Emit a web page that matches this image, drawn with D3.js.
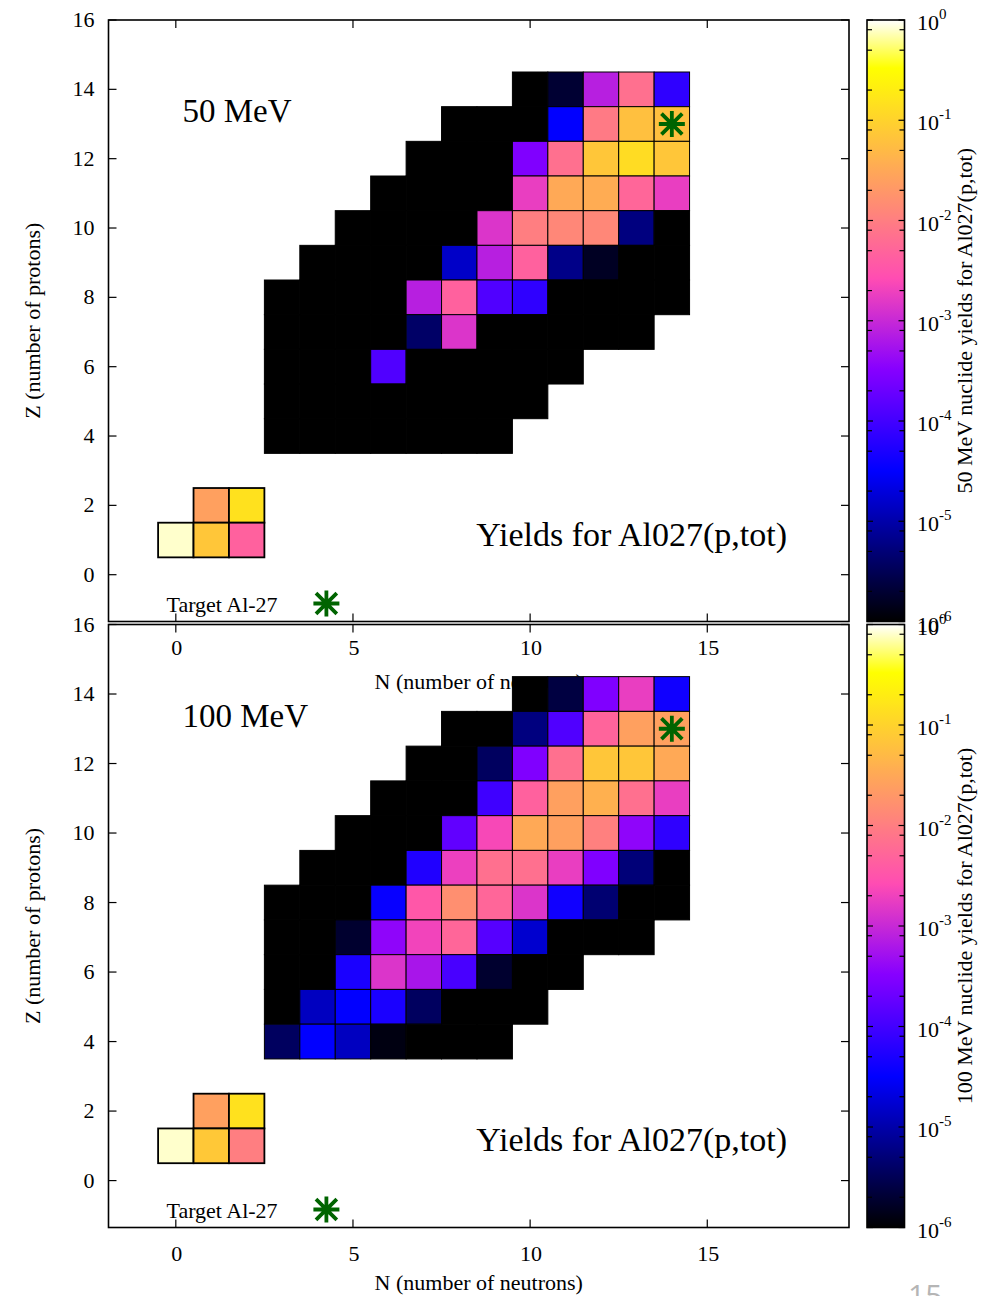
<!DOCTYPE html>
<html>
<head>
<meta charset="utf-8">
<script src="https://cdn.jsdelivr.net/npm/d3@7"></script>
<style>
  body { margin: 0; background: #fff; }
  svg { display: block; }
  text { font-family: "Liberation Serif", "Times New Roman", serif; fill: #000; }
</style>
</head>
<body>
<svg id="chart" width="992" height="1296"></svg>
<script>
// rows of the nuclide chart, top row first
const Z_ROWS = [14, 13, 12, 11, 10, 9, 8, 7, 6, 5, 4];
const N_FIRST = [10, 8, 7, 6, 5, 4, 3, 3, 3, 3, 3];

// yields per row, starting at N_FIRST (values under 1e-6 are drawn black)
const YIELD_50 = [
  [3e-7, 2.0e-6, 7.6e-4, 6.9e-3, 7.2e-5],
  [1e-7, 4e-7, 8e-7, 3.2e-5, 9.1e-3, 6.0e-2, 6.0e-2],
  [1e-7, 2e-7, 6e-7, 2.9e-4, 6.9e-3, 7.1e-2, 1.3e-1, 7.1e-2],
  [5e-8, 1e-7, 3e-7, 8e-7, 1.8e-3, 3.2e-2, 3.5e-2, 5.2e-3, 1.8e-3],
  [3e-8, 1e-7, 2e-7, 7e-7, 1.4e-3, 1.0e-2, 1.3e-2, 1.3e-2, 5.6e-6, 6e-7],
  [2e-8, 5e-8, 1e-7, 6e-7, 1.5e-5, 7.6e-4, 4.6e-3, 6.3e-6, 1.6e-6, 4e-7, 1e-7],
  [1e-8, 3e-8, 1e-7, 4e-7, 7.6e-4, 4.6e-3, 1.26e-4, 7.2e-5, 9e-7, 3e-7, 1e-7, 5e-8],
  [1e-8, 3e-8, 1e-7, 5e-7, 4.0e-6, 1.4e-3, 8e-7, 3e-7, 1e-7, 5e-8, 2e-8],
  [1e-8, 5e-8, 3e-7, 1.26e-4, 7e-7, 5e-7, 2e-7, 1e-7, 3e-8],
  [1e-8, 5e-8, 2e-7, 5e-7, 8e-7, 4e-7, 1e-7, 3e-8],
  [1e-8, 3e-8, 1e-7, 3e-7, 2e-7, 8e-8, 2e-8]
];

const YIELD_100 = [
  [5e-7, 2.4e-6, 2.9e-4, 1.8e-3, 4.2e-5],
  [2e-7, 7e-7, 5.6e-6, 1.26e-4, 5.0e-3, 2.5e-2, 2.5e-2],
  [2e-7, 6e-7, 3.6e-6, 2.9e-4, 6.9e-3, 7.1e-2, 7.1e-2, 3.2e-2],
  [1e-7, 4e-7, 9e-7, 9.5e-5, 4.6e-3, 2.5e-2, 3.9e-2, 6.9e-3, 1.8e-3],
  [1e-7, 3e-7, 8e-7, 1.7e-4, 2.3e-3, 3.2e-2, 2.5e-2, 1.05e-2, 3.8e-4, 7.2e-5],
  [5e-8, 2e-7, 7e-7, 5.5e-5, 1.9e-3, 6.9e-3, 6.9e-3, 1.8e-3, 2.9e-4, 5.1e-6, 8e-7],
  [3e-8, 2e-7, 6e-7, 3.6e-5, 3.5e-3, 1.6e-2, 5.2e-3, 1.4e-3, 4.2e-5, 4.6e-6, 7e-7, 3e-7],
  [1e-7, 5e-7, 1.9e-6, 3.8e-4, 2.1e-3, 5.2e-3, 1.4e-4, 1.66e-5, 8e-7, 4e-7, 1e-7],
  [2e-7, 8e-7, 5.0e-5, 1.4e-3, 5.8e-4, 1.1e-4, 1.9e-6, 6e-7, 2e-7],
  [6e-7, 1.35e-5, 3.2e-5, 5.0e-5, 3.6e-6, 7e-7, 3e-7, 1e-7],
  [3.6e-6, 3.2e-5, 1.35e-5, 1.26e-6, 8e-7, 4e-7, 1e-7]
];

// light ejectiles (p, d, t / 3He, 4He)
const LIGHT_Z = [2, 1];
const LIGHT_N_FIRST = [1, 0];
const LIGHT_50 = [[2.5e-2, 1.45e-1], [8e-1, 7.1e-2, 4.6e-3]];
const LIGHT_100 = [[2.5e-2, 1.45e-1], [8e-1, 7.4e-2, 1.0e-2]];

const TARGET_N = 14;
const TARGET_Z = 13;

const X_TICKS = [0, 5, 10, 15];
const Y_TICKS = [0, 2, 4, 6, 8, 10, 12, 14, 16];
const CB_EXPONENTS = [0, -1, -2, -3, -4, -5, -6];
const CB_MINOR = [2, 5, 8];

const ENERGIES = ["50 MeV", "100 MeV"];

// gnuplot rgbformulae 30,31,32
function palette(t) {
  const c = (v) => Math.max(0, Math.min(1, v));
  const r = c(t / 0.32 - 0.78125);
  const g = c(2 * t - 0.84);
  const b = c(t < 0.25 ? 4 * t : t < 0.42 ? 1 : t < 0.92 ? -2 * t + 1.84 : t / 0.08 - 11.5);
  return d3.rgb(r * 255, g * 255, b * 255).formatHex();
}

const svg = d3.select("#chart");
const W = { left: 108.5, right: 849, cbLeft: 867, cbRight: 904.5 };
const PANEL_TOPS = [20, 624.5];
const PANEL_BOTTOMS = [621.5, 1227.5];
const XLABEL_DY = [67, 62];
const GREEN = "#006400";

const frac = d3.scaleLog().domain([1e-6, 1]).range([0, 1]).clamp(true);

const grad = svg.append("defs").append("linearGradient")
  .attr("id", "pal").attr("x1", 0).attr("y1", 1).attr("x2", 0).attr("y2", 0);
d3.range(0, 101).forEach((i) => {
  grad.append("stop").attr("offset", i / 100).attr("stop-color", palette(i / 100));
});

function asterisk(g, cx, cy, r) {
  const p = d3.path();
  p.moveTo(cx - r, cy); p.lineTo(cx + r, cy);
  p.moveTo(cx, cy - r); p.lineTo(cx, cy + r);
  const d = r * 0.8;
  p.moveTo(cx - d, cy - d); p.lineTo(cx + d, cy + d);
  p.moveTo(cx - d, cy + d); p.lineTo(cx + d, cy - d);
  g.append("path").attr("d", p.toString())
    .attr("stroke", GREEN).attr("stroke-width", 3.8).attr("fill", "none");
}

function drawPanel(idx) {
  const top = PANEL_TOPS[idx];
  const bottom = PANEL_BOTTOMS[idx];
  const yields = idx === 0 ? YIELD_50 : YIELD_100;
  const light = idx === 0 ? LIGHT_50 : LIGHT_100;
  const energy = ENERGIES[idx];

  const x = d3.scaleLinear().domain([-1.9, 19]).range([W.left, W.right]);
  const y = d3.scaleLinear().domain([-1.35, 16]).range([bottom, top]);
  const g = svg.append("g");

  // cells
  const cells = [];
  Z_ROWS.forEach((z, i) => {
    yields[i].forEach((v, j) => cells.push({ n: N_FIRST[i] + j, z, v }));
  });
  g.selectAll("rect.cell").data(cells).join("rect")
    .attr("class", "cell")
    .attr("x", (d) => x(d.n - 0.5))
    .attr("y", (d) => y(d.z + 0.5))
    .attr("width", x(1) - x(0))
    .attr("height", y(0) - y(1))
    .attr("fill", (d) => palette(frac(d.v)))
    .attr("stroke", "#000")
    .attr("stroke-width", 1);

  const lightCells = [];
  LIGHT_Z.forEach((z, i) => {
    light[i].forEach((v, j) => lightCells.push({ n: LIGHT_N_FIRST[i] + j, z, v }));
  });
  g.selectAll("rect.light").data(lightCells).join("rect")
    .attr("class", "light")
    .attr("x", (d) => x(d.n - 0.5))
    .attr("y", (d) => y(d.z + 0.5))
    .attr("width", x(1) - x(0))
    .attr("height", y(0) - y(1))
    .attr("fill", (d) => palette(frac(d.v)))
    .attr("stroke", "#000")
    .attr("stroke-width", 1.8);

  asterisk(g, x(TARGET_N), y(TARGET_Z), 13);

  // frame and ticks
  g.append("rect")
    .attr("x", W.left).attr("y", top)
    .attr("width", W.right - W.left).attr("height", bottom - top)
    .attr("fill", "none").attr("stroke", "#000").attr("stroke-width", 1.6);

  X_TICKS.forEach((t) => {
    g.append("line").attr("x1", x(t)).attr("x2", x(t)).attr("y1", bottom).attr("y2", bottom - 8)
      .attr("stroke", "#000").attr("stroke-width", 1.2);
    g.append("line").attr("x1", x(t)).attr("x2", x(t)).attr("y1", top).attr("y2", top + 8)
      .attr("stroke", "#000").attr("stroke-width", 1.2);
    g.append("text").attr("x", x(t) + 1).attr("y", bottom + 33)
      .attr("text-anchor", "middle").attr("font-size", 22).text(t);
  });
  Y_TICKS.forEach((t) => {
    g.append("line").attr("x1", W.left).attr("x2", W.left + 8).attr("y1", y(t)).attr("y2", y(t))
      .attr("stroke", "#000").attr("stroke-width", 1.2);
    g.append("line").attr("x1", W.right).attr("x2", W.right - 8).attr("y1", y(t)).attr("y2", y(t))
      .attr("stroke", "#000").attr("stroke-width", 1.2);
    g.append("text").attr("x", W.left - 14).attr("y", y(t) + 7)
      .attr("text-anchor", "end").attr("font-size", 22).text(t);
  });

  // axis titles
  g.append("text")
    .attr("transform", `translate(${(W.left + W.right) / 2},${bottom + XLABEL_DY[idx]})`)
    .attr("text-anchor", "middle").attr("font-size", 22)
    .text("N (number of neutrons)");
  g.append("text")
    .attr("transform", `translate(40,${(top + bottom) / 2}) rotate(-90)`)
    .attr("text-anchor", "middle").attr("font-size", 22)
    .text("Z (number of protons)");

  // labels inside
  g.append("text").attr("x", W.left + 74).attr("y", top + 102)
    .attr("font-size", 33).text(energy);
  g.append("text").attr("x", 787).attr("y", top + 526)
    .attr("text-anchor", "end").attr("font-size", 34).text("Yields for Al027(p,tot)");
  g.append("text").attr("x", W.left + 58).attr("y", bottom - 10)
    .attr("font-size", 22).text("Target Al-27");
  asterisk(g, x(4.25), bottom - 18, 13);

  // colour box
  const cb = d3.scaleLog().domain([1e-6, 1]).range([bottom, top]);
  g.append("rect")
    .attr("x", W.cbLeft).attr("y", top)
    .attr("width", W.cbRight - W.cbLeft).attr("height", bottom - top)
    .attr("fill", "url(#pal)").attr("stroke", "#000").attr("stroke-width", 1.6);

  const cbTicks = [];
  CB_EXPONENTS.forEach((e) => {
    cbTicks.push({ v: Math.pow(10, e), len: 6 });
    if (e < 0) CB_MINOR.forEach((m) => cbTicks.push({ v: m * Math.pow(10, e), len: 5 }));
  });
  cbTicks.forEach((t) => {
    const yy = cb(t.v);
    g.append("line").attr("x1", W.cbLeft).attr("x2", W.cbLeft + t.len).attr("y1", yy).attr("y2", yy)
      .attr("stroke", "#000").attr("stroke-width", 1.2);
    g.append("line").attr("x1", W.cbRight).attr("x2", W.cbRight - t.len).attr("y1", yy).attr("y2", yy)
      .attr("stroke", "#000").attr("stroke-width", 1.2);
  });
  CB_EXPONENTS.forEach((e) => {
    const tx = g.append("text").attr("x", 917).attr("y", cb(Math.pow(10, e)) + 10)
      .attr("font-size", 22);
    tx.append("tspan").text("10");
    tx.append("tspan").attr("dy", -11).attr("font-size", 15).text(e === 0 ? "0" : "-" + (-e));
  });

  g.append("text")
    .attr("transform", `translate(972,${(top + bottom) / 2}) rotate(-90)`)
    .attr("text-anchor", "middle").attr("font-size", 22)
    .text(`${energy} nuclide yields for Al027(p,tot)`);
}

drawPanel(0);
drawPanel(1);

// slide page number, cut by the picture edge
svg.append("text").attr("x", 908).attr("y", 1306)
  .style("font-family", "'Open Sans', sans-serif").attr("font-size", 30)
  .style("fill", "#b5b5b5").text("15");
</script>
</body>
</html>
